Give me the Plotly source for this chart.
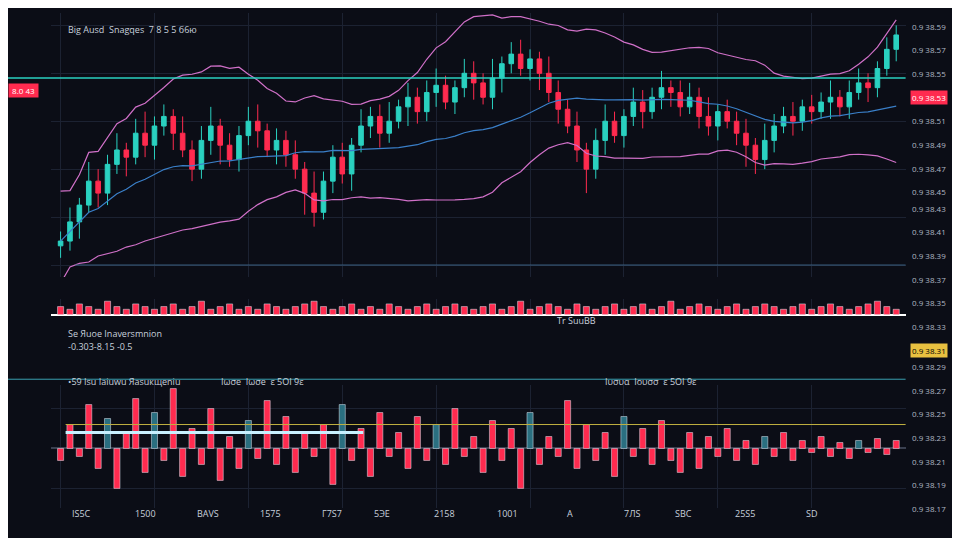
import plotly.graph_objects as go
import pandas as pd

closes = [10,18,25,35,30,42,48,45,55,50,58,62,55,48,40,52,58,50,44,54,60,56,48,52,46,40,30,22,35,45,
          38,50,58,62,55,60,66,70,64,72,75,68,74,80,76,70,78,84,88,82,86,80,72,65,58,48,40,52,60,54,
          62,68,64,70,74,72,66,70,62,58,64,60,55,50,44,52,58,62,60,66,64,68,70,66,72,76,74,82,90,96]
opens = [8]+closes[:-1]
wick_up = [4,6,3,8,5,4,7,3,6,9,4,5,3,7,4,6,8,3,5,4,6,7,3,5,4,6,3,9,4,5,
           6,3,7,4,5,8,3,6,4,5,7,4,3,6,5,4,8,3,5,6,4,3,7,5,4,6,3,5,7,4,
           3,6,5,4,7,3,5,6,4,8,3,5,4,6,3,7,5,4,6,3,5,4,7,3,5,6,4,3,5,4]
wick_dn = [5,4,7,3,6,5,4,8,3,5,6,4,7,3,5,4,6,8,3,5,4,7,3,6,5,4,9,6,3,5,
           4,7,3,5,6,4,3,8,5,4,6,3,5,4,7,3,5,6,4,3,5,7,4,6,3,5,10,4,6,3,
           5,4,7,3,5,6,4,3,5,4,6,3,5,9,6,4,5,3,6,4,5,3,7,4,5,3,6,4,3,5]
highs = [max(o, c) + w for o, c, w in zip(opens, closes, wick_up)]
lows = [min(o, c) - w for o, c, w in zip(opens, closes, wick_dn)]
volume = [3,2,4,3,2,5,3,2,4,3,2,3,4,2,3,5,2,3,4,2,3,2,4,3,2,3,4,5,3,2,
          3,4,2,3,2,4,3,2,3,4,2,3,4,3,2,3,4,2,3,5,2,3,4,3,2,4,3,2,3,4,
          2,3,4,2,3,5,2,3,4,3,2,3,4,2,3,4,3,2,3,4,2,3,4,3,2,3,4,5,3,2]
osc = [-6,12,-4,22,-10,15,-20,8,25,-12,18,-6,30,-14,10,-8,20,-16,6,-10,14,-5,24,-8,16,-12,8,-4,12,-18,
       22,-6,10,-14,18,-4,8,-10,16,-6,12,-8,20,-4,6,-12,14,-6,10,-20,18,-8,6,-4,24,-10,12,-6,8,-14,
       16,-4,10,-8,14,-6,-12,8,-10,6,-4,10,-6,4,-8,6,-4,8,-6,4,-2,6,-4,3,-5,4,-2,5,-3,4]
x = list(range(len(closes)))

s = pd.Series(closes)
ma_slow = s.rolling(25, min_periods=1).mean()
ma_mid = s.rolling(12, min_periods=1).mean()
std = s.rolling(20, min_periods=1).std().fillna(8)
upper = ma_mid + 1.6 * std + 8
lower = ma_slow - 1.2 * std - 8

RED, TEAL = "#ff2b4f", "#2ad1c0"
XR = 0.935
fig = go.Figure()
fig.add_trace(go.Candlestick(x=x, open=opens, high=highs, low=lows, close=closes,
    increasing=dict(line=dict(color=TEAL, width=1), fillcolor=TEAL),
    decreasing=dict(line=dict(color=RED, width=1), fillcolor=RED), xaxis="x", yaxis="y"))
fig.add_trace(go.Scatter(x=x, y=upper, line=dict(color="#d070c8", width=1.2), xaxis="x", yaxis="y"))
fig.add_trace(go.Scatter(x=x, y=lower, line=dict(color="#d070c8", width=1.2), xaxis="x", yaxis="y"))
fig.add_trace(go.Scatter(x=x, y=ma_slow, line=dict(color="#3a7fc8", width=1.2), xaxis="x", yaxis="y"))
fig.add_trace(go.Bar(x=x, y=volume, marker_color=RED, xaxis="x", yaxis="y2"))
fig.add_trace(go.Bar(x=x, y=osc, marker_color=[RED if v < 0 or i % 5 else "#2a6f80" for i, v in enumerate(osc)],
                     xaxis="x2", yaxis="y3"))

fig.add_shape(type="line", xref="paper", yref="y", x0=0, x1=XR, y0=78, y1=78, line=dict(color=TEAL, width=1.5))
fig.add_shape(type="line", xref="paper", yref="y", x0=0.07, x1=XR, y0=0, y1=0, line=dict(color="#3a5f80", width=1))
fig.add_shape(type="line", xref="paper", yref="y3", x0=0.06, x1=XR, y0=12, y1=12, line=dict(color="#c0b040", width=1))
fig.add_shape(type="line", xref="paper", yref="y3", x0=0.06, x1=0.37, y0=8, y1=8, line=dict(color="#c8f0ff", width=3))
fig.add_shape(type="line", xref="paper", yref="paper", x0=0, x1=XR, y0=0.31, y1=0.31, line=dict(color="#3aa0b0", width=1))

ann = [("Вig Аusd  Ѕnagqes  7 8 5 5 б6ю", 0.06, 0.975), ("Ѕe Яuоe Іnaversmnion", 0.06, 0.395),
       ("•59 Іsu Іaiuwu Яаsuкщеniu", 0.06, 0.29), ("Іωσе  Ιωσе  ε 5ΟΙ 9ε", 0.22, 0.29),
       ("Ιυσυα  Ιουσσ  ε 5ΟΙ 9ε", 0.62, 0.29), ("-0.303-8.15 -0.5", 0.06, 0.37), ("Тr SuuBB", 0.57, 0.42)]
for t, ax, ay in ann:
    fig.add_annotation(text=t, x=ax, y=ay, xref="paper", yref="paper", showarrow=False,
                       xanchor="left", font=dict(color="#c8d0dc", size=9))
for i, lab in enumerate(["ІЅ5С", "1500", "ВАVЅ", "1575", "Г7Ѕ7", "5ЭЕ", "2158", "1001", "А", "7ЛЅ", "ЅВС", "25Ѕ5", "ЅD"]):
    fig.add_annotation(text=lab, x=0.065 + i * 0.065, y=0.045, xref="paper", yref="paper",
                       showarrow=False, font=dict(color="#c8d0dc", size=9))
badges = {3: RED, 14: "#e8c040"}
for i in range(22):
    yy = 0.98 - i * 0.044
    if i in badges:
        fig.add_annotation(text="0.9 38.%02d" % (59 - i * 2), x=0.94, y=yy, xref="paper", yref="paper",
                           showarrow=False, xanchor="left", bgcolor=badges[i], borderpad=1,
                           font=dict(color="white" if i == 3 else "black", size=8))
    else:
        fig.add_annotation(text="0.9 38.%02d" % (59 - i * 2), x=0.94, y=yy, xref="paper", yref="paper",
                           showarrow=False, xanchor="left", font=dict(color="#b0b8c4", size=8))
fig.add_annotation(text=" 8.0 43 ", x=0.0, y=0.86, xref="paper", yref="paper", showarrow=False,
                   xanchor="left", bgcolor=RED, font=dict(color="white", size=8))

grid = "#1c2232"
fig.update_layout(
    width=960, height=538, margin=dict(l=0, r=0, t=0, b=0), showlegend=False, bargap=0.35,
    paper_bgcolor="#0b0d16", plot_bgcolor="#0b0d16",
    xaxis=dict(domain=[0.045, XR], range=[-1, 90], rangeslider=dict(visible=False), showticklabels=False,
               showgrid=True, gridcolor=grid, anchor="y"),
    yaxis=dict(domain=[0.5, 0.99], range=[-5, 105], showticklabels=False, gridcolor=grid, zeroline=False),
    yaxis2=dict(domain=[0.43, 0.46], range=[0, 6], showticklabels=False, showgrid=False, anchor="x"),
    xaxis2=dict(domain=[0.045, XR], range=[-1, 90], showticklabels=False, gridcolor=grid, anchor="y3"),
    yaxis3=dict(domain=[0.07, 0.3], range=[-30, 32], showticklabels=False, gridcolor=grid,
                zeroline=True, zerolinecolor="#3a4050"),
)
fig.write_html("out.html")
